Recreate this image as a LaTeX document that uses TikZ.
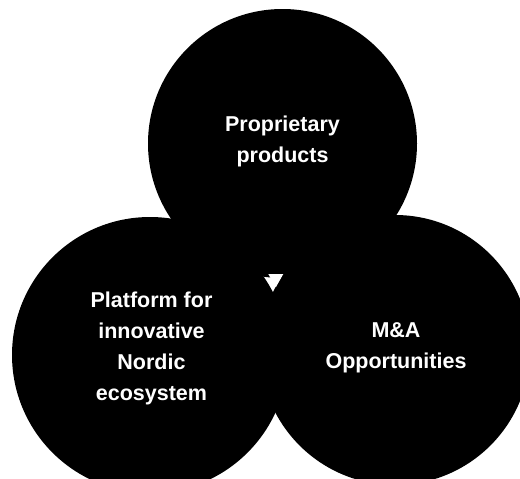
\documentclass[tikz,border=0pt]{standalone}
\usepackage{fontspec}
\setmainfont{Liberation Sans}
\begin{document}
\begin{tikzpicture}[x=1pt,y=-1pt,
  blob/.style={circle, fill=black, inner sep=0pt, outer sep=0pt},
  lbl/.style={text=white, font=\fontsize{21.5}{31}\selectfont\bfseries, align=center, inner sep=0pt}]
\useasboundingbox (0,0) rectangle (520,479);
\clip (0,0) rectangle (520,479);
\node[blob, minimum size=269pt] (top) at (282.5,143.5) {};
\node[blob, minimum size=276pt] (left) at (150,355) {};
\node[blob, minimum size=270pt] (right) at (395,350) {};
\node[lbl] (tt) at (282.5,141.5) {Proprietary\\products};
\node[lbl] (lt) at (151.5,348.5) {Platform for\\innovative\\Nordic\\ecosystem};
\node[lbl] (rt) at (396,348) {M\&A\\Opportunities};
\fill[white] (268.3,274) -- (283.3,274) -- (275.8,287.3) -- cycle;
\end{tikzpicture}
\end{document}
